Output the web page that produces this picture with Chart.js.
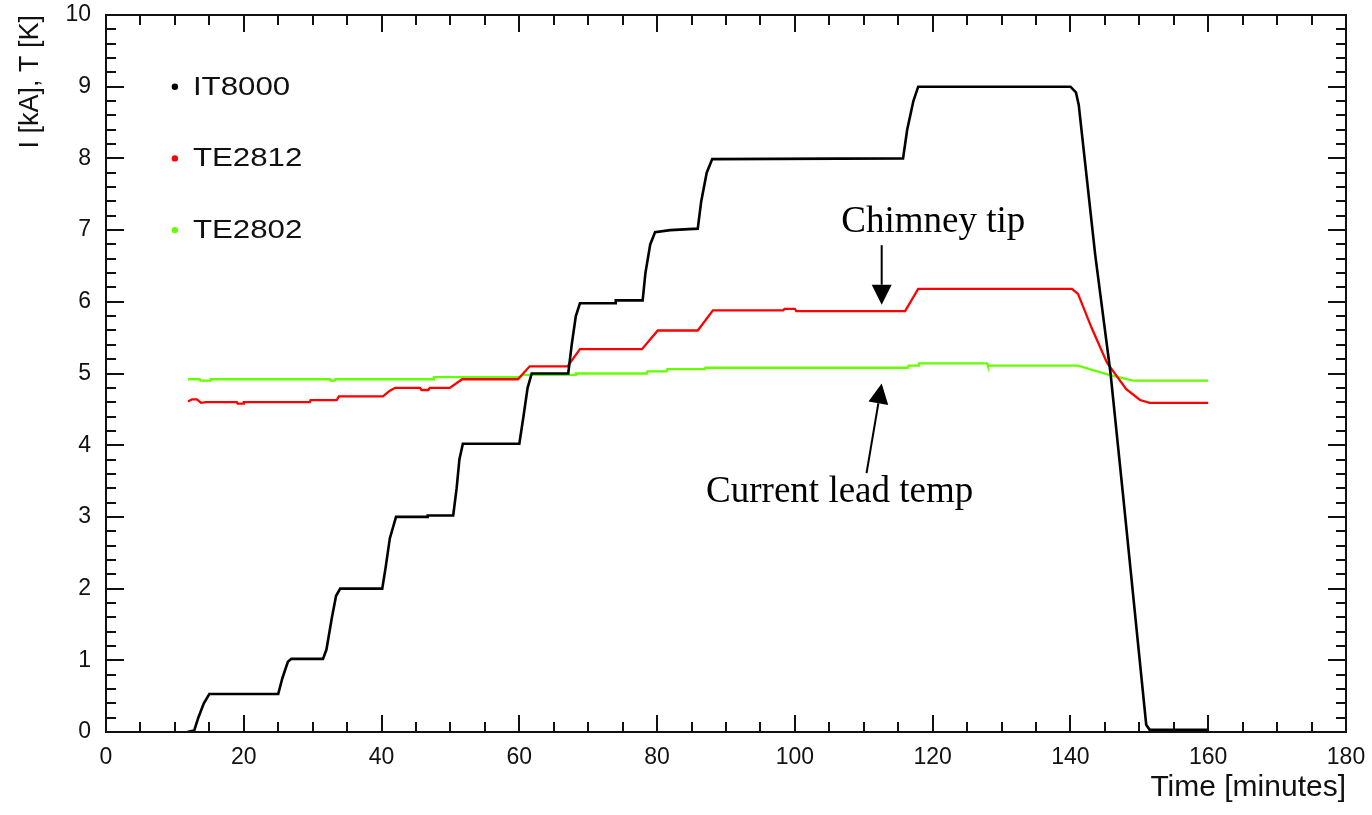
<!DOCTYPE html>
<html>
<head>
<meta charset="utf-8">
<script src="https://cdn.jsdelivr.net/npm/chart.js@4.4.1/dist/chart.umd.min.js"></script>
<style>
    html, body { margin: 0; padding: 0; background: #ffffff; }
    #wrap { width: 1372px; height: 815px; }
</style>
</head>
<body>
<div id="wrap"><canvas id="chart" width="1372" height="815"></canvas></div>
<script>
// IT8000 current [kA] vs time [minutes]
const it8000Time = [11.8, 12.8, 13.4, 14.2, 15.0, 25.0, 25.6, 26.4, 26.9, 31.5, 32.0, 32.8, 33.4, 34.0,
    40.1, 40.6, 41.2, 42.1, 46.6, 46.7, 50.4, 50.9, 51.3, 51.8, 60.0, 60.6, 61.2, 61.8, 67.1, 67.6,
    68.2, 68.8, 73.9, 74.0, 77.9, 78.3, 79.0, 79.7, 81.9, 85.9, 86.4, 87.2, 88.0, 115.7, 116.3,
    117.2, 117.9, 140.0, 140.8, 141.2, 143.6, 145.8, 147.6, 151.0, 151.5, 160.0];
const it8000Value = [0, 0.02, 0.2, 0.4, 0.53, 0.53, 0.75, 0.98, 1.02, 1.02, 1.15, 1.6, 1.9, 2.0,
    2.0, 2.3, 2.7, 3.0, 3.0, 3.02, 3.02, 3.4, 3.8, 4.02, 4.02, 4.4, 4.8, 5.0, 5.0, 5.4,
    5.8, 5.98, 5.98, 6.02, 6.02, 6.4, 6.8, 6.97, 7.0, 7.02, 7.4, 7.8, 7.99, 8.0, 8.4,
    8.8, 9.0, 9.0, 8.92, 8.75, 6.65, 5.02, 3.34, 0.1, 0.03, 0.03];

// TE2812 chimney tip temperature [K]
const te2812Time = [11.9, 12.5, 13.2, 13.8, 14.5, 19.0, 19.1, 19.9, 20.0, 29.6, 29.7, 33.5, 33.8,
    40.2, 41.2, 42.0, 45.6, 45.8, 46.8, 47.0, 49.9, 51.7, 59.8, 61.5, 67.0, 68.8, 77.8, 80.1,
    85.9, 88.1, 98.3, 98.5, 100.0, 100.2, 116.0, 117.9, 140.2, 141.1, 143.1, 145.3, 148.1,
    150.1, 151.5, 160.0];
const te2812Value = [4.61, 4.64, 4.64, 4.59, 4.60, 4.60, 4.58, 4.58, 4.60, 4.60, 4.63, 4.63, 4.68,
    4.68, 4.76, 4.80, 4.80, 4.77, 4.77, 4.80, 4.80, 4.92, 4.92, 5.10, 5.10, 5.34, 5.34, 5.60,
    5.60, 5.88, 5.88, 5.90, 5.90, 5.87, 5.87, 6.18, 6.18, 6.11, 5.63, 5.15, 4.78,
    4.63, 4.59, 4.59];

// TE2802 current lead temperature [K]
const te2802Time = [11.9, 13.6, 13.7, 15.1, 15.2, 32.5, 32.6, 33.2, 33.3, 47.5, 47.6, 60.0, 60.5,
    68.1, 68.2, 78.5, 78.6, 81.4, 81.5, 86.9, 87.0, 116.4, 116.5, 117.9, 118.0, 127.9, 128.0,
    141.1, 145.6, 149.1, 160.0];
const te2802Value = [4.92, 4.92, 4.90, 4.90, 4.92, 4.92, 4.90, 4.90, 4.92, 4.92, 4.95, 4.95, 4.98,
    4.98, 5.00, 5.00, 5.03, 5.03, 5.06, 5.06, 5.08, 5.08, 5.11, 5.11, 5.14, 5.14, 5.11,
    5.11, 4.98, 4.90, 4.90];

const seriesLabels = ["IT8000", "TE2812", "TE2802"];
const seriesColors = ["#000000", "#ff0000", "#66ff00"];

// annotation text and arrows, in data units (minutes, value)
const annotations = [
    { text: "Chimney tip", x: 120.1, y: 6.98, from: [112.6, 6.79], to: [112.6, 5.96] },
    { text: "Current lead temp", x: 106.5, y: 3.21, from: [110.4, 3.61], to: [112.6, 4.86] },
];

function toPoints(times, values) {
    return times.map((t, i) => ({ x: t, y: values[i] }));
}

const frameTicks = {
    id: "frameTicks",
    afterDatasetsDraw(chart) {
        const { ctx, chartArea: a, scales } = chart;
        const xs = scales.x;
        const ys = scales.y;
        ctx.save();
        ctx.strokeStyle = "#111";
        ctx.lineWidth = 2;
        ctx.strokeRect(a.left, a.top, a.right - a.left, a.bottom - a.top);
        ctx.beginPath();
        for (let v = 0; v <= 180; v += 5) {
            const px = Math.round(xs.getPixelForValue(v));
            const len = v % 20 === 0 ? 17 : 10;
            ctx.moveTo(px, a.bottom); ctx.lineTo(px, a.bottom - len);
            ctx.moveTo(px, a.top); ctx.lineTo(px, a.top + len);
        }
        for (let k = 0; k <= 50; k++) {
            const py = Math.round(ys.getPixelForValue(k / 5));
            const len = k % 5 === 0 ? 18 : 10;
            ctx.moveTo(a.left, py); ctx.lineTo(a.left + len, py);
            ctx.moveTo(a.right, py); ctx.lineTo(a.right - len, py);
        }
        ctx.stroke();
        ctx.restore();
    },
};

const insideLegend = {
    id: "insideLegend",
    afterDraw(chart) {
        const { ctx, scales } = chart;
        ctx.save();
        ctx.font = "25px 'Liberation Sans', Arial, sans-serif";
        ctx.textBaseline = "middle";
        chart.data.datasets.forEach((ds, i) => {
            const px = scales.x.getPixelForValue(10);
            const py = scales.y.getPixelForValue(9 - i);
            ctx.fillStyle = ds.borderColor;
            ctx.beginPath();
            ctx.arc(px, py, 3.2, 0, Math.PI * 2);
            ctx.fill();
            ctx.fillStyle = "#111";
            ctx.save();
            ctx.translate(px + 18, py + 1);
            ctx.scale(1.25, 1);
            ctx.fillText(ds.label, 0, 0);
            ctx.restore();
        });
        ctx.restore();
    },
};

function drawArrow(ctx, x1, y1, x2, y2) {
    const ang = Math.atan2(y2 - y1, x2 - x1);
    const len = 20;
    const half = 10;
    const bx = x2 - len * Math.cos(ang);
    const by = y2 - len * Math.sin(ang);
    ctx.beginPath();
    ctx.moveTo(x1, y1);
    ctx.lineTo(bx, by);
    ctx.stroke();
    ctx.beginPath();
    ctx.moveTo(x2, y2);
    ctx.lineTo(bx + half * Math.sin(ang), by - half * Math.cos(ang));
    ctx.lineTo(bx - half * Math.sin(ang), by + half * Math.cos(ang));
    ctx.closePath();
    ctx.fill();
}

const arrowNotes = {
    id: "arrowNotes",
    afterDraw(chart) {
        const { ctx, scales } = chart;
        const X = (v) => scales.x.getPixelForValue(v);
        const Y = (v) => scales.y.getPixelForValue(v);
        ctx.save();
        ctx.fillStyle = "#000";
        ctx.strokeStyle = "#000";
        ctx.lineWidth = 2;
        ctx.font = "37px 'Liberation Serif', 'Times New Roman', serif";
        ctx.textAlign = "center";
        ctx.textBaseline = "alphabetic";
        annotations.forEach((note) => {
            ctx.fillText(note.text, X(note.x), Y(note.y));
            drawArrow(ctx, X(note.from[0]), Y(note.from[1]), X(note.to[0]), Y(note.to[1]));
        });
        ctx.restore();
    },
};

const tickFont = { family: "'Liberation Sans', Arial, sans-serif", size: 23 };

function noEdgePadding(scale) {
    scale.paddingTop = 0;
    scale.paddingBottom = 0;
    scale.paddingLeft = 0;
    scale.paddingRight = 0;
}

new Chart(document.getElementById("chart"), {
    type: "line",
    data: {
        datasets: [
            { label: seriesLabels[0], data: toPoints(it8000Time, it8000Value), borderColor: seriesColors[0], borderWidth: 2.6 },
            { label: seriesLabels[1], data: toPoints(te2812Time, te2812Value), borderColor: seriesColors[1], borderWidth: 2.3 },
            { label: seriesLabels[2], data: toPoints(te2802Time, te2802Value), borderColor: seriesColors[2], borderWidth: 2.3 },
        ].map((ds) => ({ ...ds, pointRadius: 0, tension: 0, fill: false, backgroundColor: ds.borderColor })),
    },
    options: {
        responsive: false,
        animation: false,
        devicePixelRatio: 1,
        layout: { padding: { top: 15, right: 26, left: 0, bottom: 0 } },
        plugins: { legend: { display: false }, tooltip: { enabled: false } },
        scales: {
            x: {
                type: "linear",
                min: 0,
                max: 180,
                grid: { display: false, drawTicks: false },
                border: { display: false },
                ticks: { stepSize: 20, font: tickFont, color: "#111", padding: 12, maxRotation: 0 },
                title: {
                    display: true,
                    text: "Time [minutes]",
                    align: "end",
                    color: "#111",
                    font: { family: "'Liberation Sans', Arial, sans-serif", size: 30 },
                    padding: { top: 0, bottom: 9 },
                },
                afterFit(scale) { scale.height = 83; noEdgePadding(scale); },
            },
            y: {
                min: 0,
                max: 10,
                grid: { display: false, drawTicks: false },
                border: { display: false },
                ticks: { stepSize: 1, font: tickFont, color: "#111", padding: 15 },
                title: {
                    display: true,
                    text: "I [kA], T [K]",
                    align: "end",
                    color: "#111",
                    font: { family: "'Liberation Sans', Arial, sans-serif", size: 27 },
                    padding: { top: 14, bottom: 0 },
                },
                afterFit(scale) { scale.width = 106; noEdgePadding(scale); },
            },
        },
    },
    plugins: [frameTicks, insideLegend, arrowNotes],
});
</script>
</body>
</html>
